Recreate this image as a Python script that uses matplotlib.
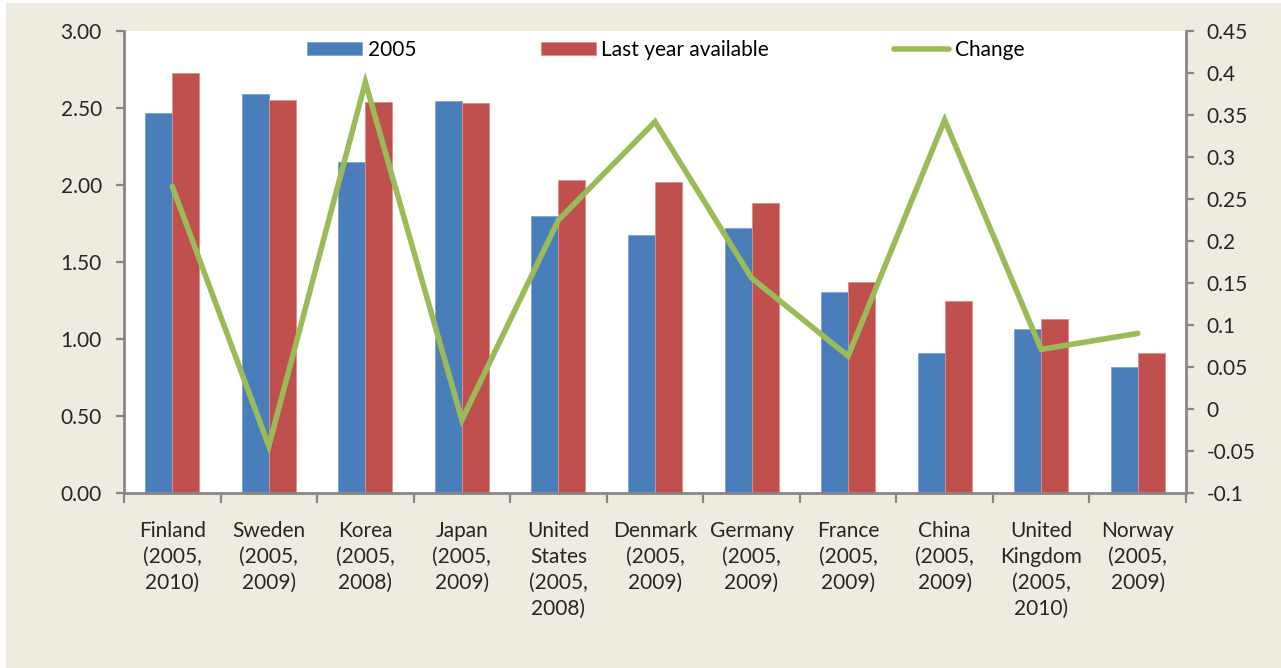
import numpy as np
import matplotlib
matplotlib.use("Agg")
import matplotlib.pyplot as plt
from matplotlib.patches import Rectangle

plt.rcParams['font.family'] = ['Lato', 'DejaVu Sans']
plt.rcParams['font.size'] = 15

countries = ["Finland\n(2005,\n2010)", "Sweden\n(2005,\n2009)", "Korea\n(2005,\n2008)",
             "Japan\n(2005,\n2009)", "United\nStates\n(2005,\n2008)", "Denmark\n(2005,\n2009)",
             "Germany\n(2005,\n2009)", "France\n(2005,\n2009)", "China\n(2005,\n2009)",
             "United\nKingdom\n(2005,\n2010)", "Norway\n(2005,\n2009)"]
values_2005 = [2.47, 2.59, 2.15, 2.545, 1.80, 1.675, 1.72, 1.305, 0.91, 1.065, 0.82]
values_last = [2.73, 2.55, 2.54, 2.53, 2.03, 2.02, 1.88, 1.37, 1.25, 1.13, 0.91]
change = [0.265, -0.044, 0.389, -0.013, 0.225, 0.342, 0.156, 0.063, 0.344, 0.071, 0.090]

left_ticks = [0.0, 0.5, 1.0, 1.5, 2.0, 2.5, 3.0]
right_ticks = [-0.1, -0.05, 0, 0.05, 0.1, 0.15, 0.2, 0.25, 0.3, 0.35, 0.4, 0.45]
right_labels = ["-0.1", "-0.05", "0", "0.05", "0.1", "0.15", "0.2", "0.25", "0.3", "0.35", "0.4", "0.45"]

blue = "#4A7EBB"
red = "#C0504D"
green = "#9BBB59"
axis_grey = "#868686"
bg = "#EEEBE0"

fig = plt.figure(figsize=(12.81, 6.68), dpi=100, facecolor="white")
fig.patches.append(Rectangle((6 / 1281, 0), 1, 1 - 3 / 668, transform=fig.transFigure,
                             facecolor=bg, edgecolor="none", zorder=-10))

ax = fig.add_axes([124 / 1281, 1 - 493 / 668, (1186 - 124) / 1281, (493 - 31) / 668])
ax.set_facecolor("white")
x = np.arange(len(countries))
w = 0.28
b1 = ax.bar(x - w / 2, values_2005, w, color=blue, edgecolor="#7FA3D2", linewidth=0.6, label="2005")
b2 = ax.bar(x + w / 2, values_last, w, color=red, edgecolor="#DE8F8D", linewidth=0.6, label="Last year available")
ax.set_xlim(-0.5, len(countries) - 0.5)
ax.set_ylim(0, 3)
ax.set_yticks(left_ticks)
ax.set_yticklabels([f"{v:.2f}" for v in left_ticks])

# category boundaries get the tick marks, labels sit on the minor ticks
ax.set_xticks(np.arange(len(countries) + 1) - 0.5)
ax.set_xticklabels([])
ax.set_xticks(x, minor=True)
ax.set_xticklabels(countries, minor=True, linespacing=1.38)
ax.tick_params(axis="x", which="minor", length=0, pad=20, colors="#262626")
ax.tick_params(axis="x", which="major", length=7, width=1.6, color=axis_grey)
ax.tick_params(axis="y", length=6, width=1.6, color=axis_grey, labelcolor="#262626", pad=10)

for s in ["top", "right"]:
    ax.spines[s].set_visible(False)
for s in ["left", "bottom"]:
    ax.spines[s].set_color(axis_grey)
    ax.spines[s].set_linewidth(2)

ax2 = ax.twinx()
line, = ax2.plot(x, change, color=green, linewidth=4, solid_capstyle="round",
                 solid_joinstyle="miter", label="Change")
ax2.set_ylim(-0.1, 0.45)
ax2.set_yticks(right_ticks)
ax2.set_yticklabels(right_labels)
ax2.tick_params(axis="y", length=6, width=1.6, color=axis_grey, labelcolor="#262626", pad=9)
for s in ["top", "left", "bottom"]:
    ax2.spines[s].set_visible(False)
ax2.spines["right"].set_color(axis_grey)
ax2.spines["right"].set_linewidth(2)

ax2.legend([b1, b2, line], ["2005", "Last year available", "Change"], ncol=3,
           loc="center", bbox_to_anchor=(0.51, 0.959), frameon=False,
           handlelength=2.65, handleheight=0.6, handletextpad=0.25, columnspacing=6.0, fontsize=15)

fig.savefig("out.png", dpi=100, facecolor=fig.get_facecolor())
